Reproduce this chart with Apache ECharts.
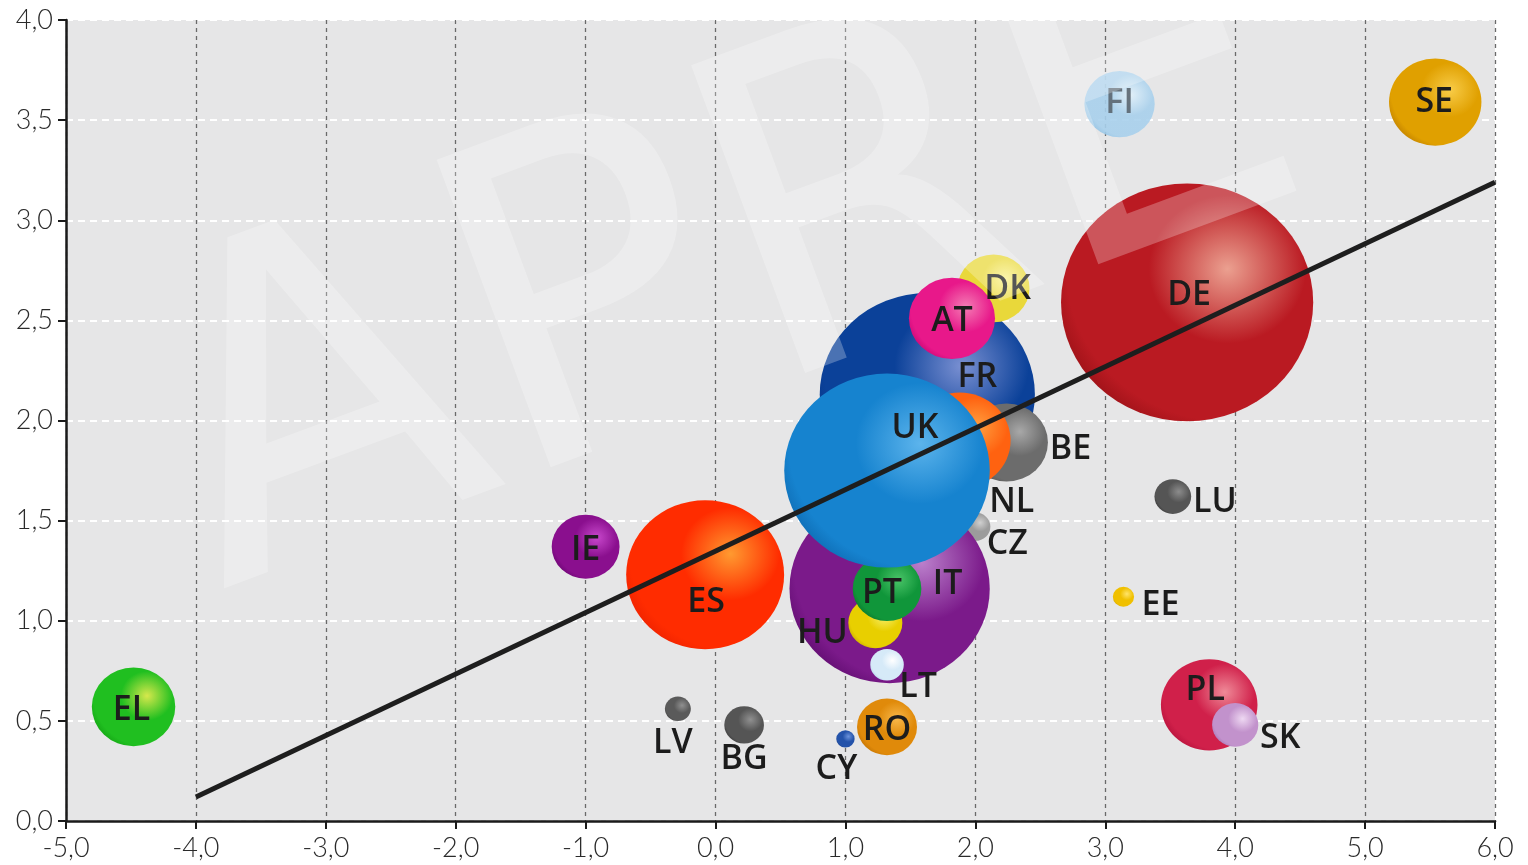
<!DOCTYPE html>
<html>
<head>
<meta charset="utf-8">
<script src="https://cdn.jsdelivr.net/npm/echarts@6/dist/echarts.min.js"></script>
<style>
html,body{margin:0;padding:0;background:#fff;}
#chart{width:1528px;height:865px;}
</style>
</head>
<body>
<div id="chart"></div>
<script>
// ---- data ----
// drawing order: first = bottom
var countries = ['DE','FI','SE','FR','DK','AT','BE','NL','CZ','IT','HU','PT','LT','UK','ES','IE','EL','LV','BG','CY','RO','LU','EE','PL','SK'];
var xValues   = [3.63, 3.11, 5.54, 1.63, 2.14, 1.82, 2.24, 1.88, 2.00, 1.34, 1.23, 1.32, 1.32, 1.32, -0.08, -1.00, -4.48, -0.29, 0.22, 1.00, 1.32, 3.52, 3.14, 3.80, 4.00];
var yValues   = [2.59, 3.58, 3.59, 2.13, 2.66, 2.51, 1.89, 1.90, 1.47, 1.16, 0.99, 1.16, 0.78, 1.75, 1.23, 1.37, 0.57, 0.56, 0.48, 0.41, 0.47, 1.62, 1.12, 0.58, 0.48];
var weights   = [566, 44, 76, 412, 46, 66, 61, 92, 8, 357, 26, 42, 10, 376, 222, 41, 62, 6, 14, 3, 32, 12, 4, 83, 19];
var trendX = [-4, 6];
var trendY = [0.12, 3.19];
var xTicks = {min: -5, max: 6, interval: 1};
var yTicks = {min: 0, max: 4, interval: 0.5};

// ---- styles ----
var bubbleColors = {
  EL:['#d6e84c','#20bf20','#0f9a0f'], IE:['#c848cc','#8a0f8e','#62046a'],
  ES:['#ff9a30','#ff2c00','#e81e00'], LV:['#909090','#5a5a5a','#383838'],
  BG:['#909090','#555555','#333333'], CY:['#6a92dc','#2453aa','#123276'],
  RO:['#f8b84a','#e08a0a','#b86c00'], LT:['#ffffff','#d6eaf8','#a9cde8'],
  HU:['#f8f070','#e8cf00','#bf9f00'], PT:['#4ac468','#10963a','#086c26'],
  IT:['#bb80cc','#7b1a8a','#560866'], CZ:['#d0d0d0','#9c9c9c','#6c6c6c'],
  UK:['#5cb4ec','#1683cf','#0b62a8'], NL:['#ffa040','#ff6210','#de4000'],
  BE:['#a8a8a8','#6c6c6c','#474747'], FR:['#7a90d2','#0b4199','#06307e'],
  AT:['#f47cb4','#e8188a','#c0006e'], DK:['#faf290','#e9d83a','#c6ae10'],
  DE:['#eba090','#ba1a22','#8e0e12'], FI:['#e0f0fa','#a8d0ec','#86bbe0'],
  SE:['#f8cc48','#e0a000','#b47400'], LU:['#8c8c8c','#555555','#303030'],
  EE:['#ffe46a','#f0c000','#cc9c00'], PL:['#ef8a98','#d0204a','#ac0c36'],
  SK:['#eed8f2','#c292cc','#9e6eae']
};
var labelOffsets = {
  EL:[-2,3], IE:[0,4], ES:[1,28], LV:[-5,34], BG:[0,34], CY:[-9,30], RO:[0,3],
  LT:[31,23], HU:[-53,11], PT:[-5,5], IT:[58,-4], CZ:[32,18], NL:[52,62],
  BE:[64,7], UK:[28,-42], FR:[50,-17], AT:[0,3], DK:[14,1], DE:[2,-7],
  FI:[0,-1], SE:[-1,0], LU:[42,6], EE:[37,9], PL:[-4,-15], SK:[45,13]
};
var labelColors = {FI:'#5b6670'};

function bubbleFill(c){
  var s = bubbleColors[c];
  return {
    type:'radial', x:0.66, y:0.36, r:0.78,
    colorStops:[
      {offset:0, color:s[0]},
      {offset:0.4, color:s[1]},
      {offset:0.82, color:s[1]},
      {offset:1, color:s[2]}
    ]
  };
}

var scatterData = countries.map(function(c, i){
  return {
    name: c,
    value: [xValues[i], yValues[i], weights[i]],
    itemStyle: {color: bubbleFill(c), opacity: c === 'FI' ? 0.9 : 1},
    label: {offset: labelOffsets[c], color: labelColors[c] || '#1c1c1c'}
  };
});
var lineData = trendX.map(function(x, i){ return [x, trendY[i]]; });

function fmt(v){ return v.toFixed(1).replace('.', ','); }

var axisFont = {fontFamily: 'Lato, "Open Sans", sans-serif', fontWeight: 300, fontSize: 27, color: '#2a2a2a'};

var chart = echarts.init(document.getElementById('chart'));
chart.setOption({
  animation: false,
  backgroundColor: '#ffffff',
  grid: {left: 66, right: 33, top: 20, bottom: 44, show: true, backgroundColor: '#e6e6e7', borderWidth: 0},
  xAxis: {
    type: 'value', min: xTicks.min, max: xTicks.max, interval: xTicks.interval,
    axisLine: {show: true, onZero: false, lineStyle: {color: '#1a1a1a', width: 2.5}},
    axisTick: {show: true, length: 8, lineStyle: {color: '#1a1a1a', width: 2}},
    axisLabel: Object.assign({formatter: fmt, margin: 14}, axisFont),
    splitLine: {show: true, lineStyle: {color: '#6a6a6a', width: 1.3, type: [4, 4]}}
  },
  yAxis: {
    type: 'value', min: yTicks.min, max: yTicks.max, interval: yTicks.interval,
    axisLine: {show: true, onZero: false, lineStyle: {color: '#1a1a1a', width: 2.5}},
    axisTick: {show: true, length: 8, lineStyle: {color: '#1a1a1a', width: 2}},
    axisLabel: Object.assign({formatter: fmt, margin: 13}, axisFont),
    splitLine: {show: true, lineStyle: {color: '#ffffff', width: 2, type: [7, 5]}}
  },
  graphic: [{
    type: 'text', x: 180, y: 480, rotation: 0.355, z: 3, silent: true,
    style: {text: 'APRE', font: '450px "DejaVu Sans"', fill: 'rgba(255,255,255,0.26)', textAlign: 'left', textVerticalAlign: 'middle'}
  }],
  series: [{
    type: 'scatter', z: 2,
    data: scatterData,
    symbol: 'circle',
    symbolSize: function(v){ var h = 10 * Math.sqrt(v[2]); return [h * 1.06, h]; },
    label: {show: true, position: 'inside', formatter: '{b}', fontFamily: 'Open Sans', fontWeight: 600, fontSize: 34},
    emphasis: {disabled: true}
  }, {
    type: 'line', z: 4,
    data: lineData,
    symbol: 'none',
    lineStyle: {color: '#1e1e1e', width: 5},
    emphasis: {disabled: true}
  }]
});
</script>
</body>
</html>
